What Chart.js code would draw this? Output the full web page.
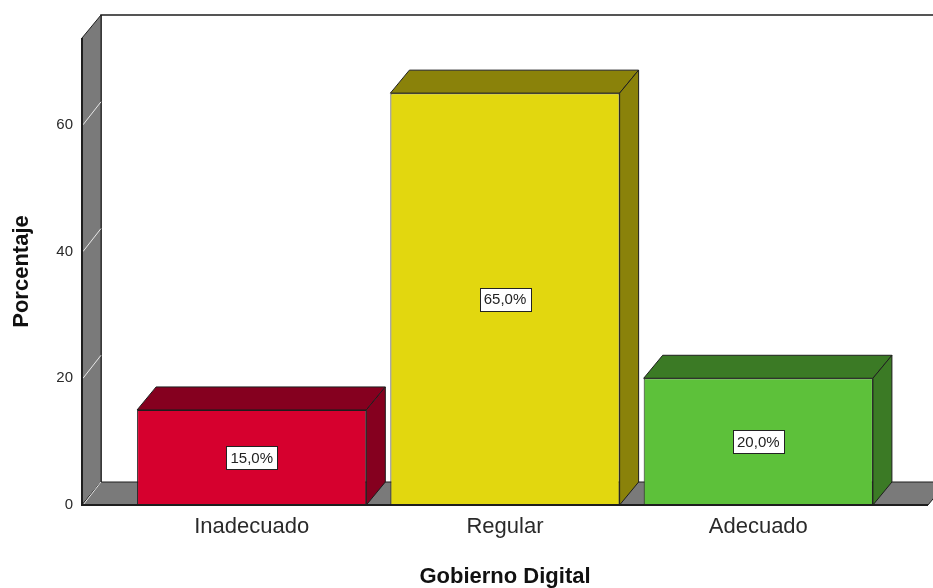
<!DOCTYPE html>
<html>
<head>
<meta charset="utf-8">
<script src="https://cdn.jsdelivr.net/npm/chart.js@4/dist/chart.umd.min.js"></script>
<style>
  html, body { margin: 0; padding: 0; background: #fff; }
  #wrap { width: 933px; height: 588px; }
</style>
</head>
<body>
<div id="wrap"><canvas id="chart"></canvas></div>
<script>
const categories = ['Inadecuado', 'Regular', 'Adecuado'];
const percentages = [15.0, 65.0, 20.0];
const yTicks = [0, 20, 40, 60];
const frontColors = ['#d6002e', '#e2d70f', '#5dc13a'];
const sideColors = ['#85001f', '#8a820a', '#3b7a25'];

// 3D depth of the SPSS style frame
const DX = 19, DY = -23;
const WALL = '#7a7a7a';
const EDGE = '#1e1e1e';

function poly(ctx, pts, fill) {
  ctx.beginPath();
  ctx.moveTo(pts[0][0], pts[0][1]);
  for (let i = 1; i < pts.length; i++) ctx.lineTo(pts[i][0], pts[i][1]);
  ctx.closePath();
  if (fill) { ctx.fillStyle = fill; ctx.fill(); }
  ctx.strokeStyle = EDGE;
  ctx.lineWidth = 1;
  ctx.stroke();
}

const frame3d = {
  id: 'frame3d',
  beforeDatasetsDraw(chart) {
    const { ctx, chartArea: a, scales: { y } } = chart;
    ctx.save();
    // back wall outline
    ctx.strokeStyle = EDGE;
    ctx.lineWidth = 1.5;
    ctx.beginPath();
    ctx.moveTo(a.left + DX, a.bottom + DY);
    ctx.lineTo(a.left + DX, a.top + DY);
    ctx.lineTo(chart.width + 30, a.top + DY);
    ctx.stroke();
    // side wall
    poly(ctx, [[a.left, a.top], [a.left + DX, a.top + DY], [a.left + DX, a.bottom + DY], [a.left, a.bottom]], WALL);
    // floor
    poly(ctx, [[a.left, a.bottom], [a.left + DX, a.bottom + DY], [a.right + DX, a.bottom + DY], [a.right, a.bottom]], WALL);
    // grid lines on the wall
    ctx.strokeStyle = '#e8e8e8';
    ctx.lineWidth = 1;
    yTicks.forEach(v => {
      const py = y.getPixelForValue(v);
      ctx.beginPath();
      ctx.moveTo(a.left + 1, py);
      ctx.lineTo(a.left + DX, py + DY);
      ctx.stroke();
    });
    // front axis edges
    ctx.strokeStyle = EDGE;
    ctx.lineWidth = 2;
    ctx.beginPath();
    ctx.moveTo(a.left, a.top);
    ctx.lineTo(a.left, a.bottom);
    ctx.lineTo(a.right, a.bottom);
    ctx.stroke();
    ctx.restore();
  },
  afterDatasetsDraw(chart) {
    const { ctx } = chart;
    const meta = chart.getDatasetMeta(0);
    ctx.save();
    meta.data.forEach((bar, i) => {
      const { x, y, base, width } = bar.getProps(['x', 'y', 'base', 'width'], true);
      const x1 = x - width / 2, x2 = x + width / 2;
      poly(ctx, [[x1, y], [x1 + DX, y + DY], [x2 + DX, y + DY], [x2, y]], sideColors[i]);
      poly(ctx, [[x2, y], [x2 + DX, y + DY], [x2 + DX, base + DY], [x2, base]], sideColors[i]);

      // value label
      const txt = percentages[i].toFixed(1).replace('.', ',') + '%';
      ctx.font = '15px "Liberation Sans", Arial, sans-serif';
      const w = Math.round(ctx.measureText(txt).width + 8);
      const h = 23;
      const cy = (y + base) / 2;
      const bx = Math.round(x - w / 2) + 0.5, by = Math.round(cy - h / 2) + 0.5;
      ctx.fillStyle = '#fff';
      ctx.fillRect(bx, by, w, h);
      ctx.strokeStyle = '#222';
      ctx.lineWidth = 1;
      ctx.strokeRect(bx, by, w, h);
      ctx.fillStyle = '#222';
      ctx.textAlign = 'center';
      ctx.textBaseline = 'middle';
      ctx.fillText(txt, x, cy + 1);
    });
    ctx.restore();
  }
};

new Chart(document.getElementById('chart'), {
  type: 'bar',
  data: {
    datasets: [{
      data: percentages.map((v, i) => ({ x: i, y: v })),
      backgroundColor: frontColors,
      borderColor: EDGE,
      borderWidth: 1,
      borderSkipped: false,
      categoryPercentage: 1,
      barPercentage: 0.905
    }]
  },
  options: {
    responsive: true,
    maintainAspectRatio: false,
    animation: false,
    layout: { padding: { top: 38, right: 5, left: 0, bottom: 0 } },
    plugins: { legend: { display: false }, tooltip: { enabled: false } },
    scales: {
      x: {
        type: 'linear',
        offset: false,
        min: -0.67,
        max: 2.67,
        grid: { display: false, drawTicks: false },
        border: { display: false },
        afterBuildTicks: s => { s.ticks = categories.map((c, i) => ({ value: i })); },
        afterFit: s => { s.height = 83; },
        ticks: {
          padding: 9,
          autoSkip: false,
          maxRotation: 0,
          color: '#2a2a2a',
          font: { family: '"Liberation Sans", Arial, sans-serif', size: 22 },
          callback: v => categories[v]
        },
        title: {
          display: true,
          text: 'Gobierno Digital',
          color: '#111',
          padding: { top: 0, bottom: 0 },
          font: { family: '"Liberation Sans", Arial, sans-serif', size: 22, weight: 'bold', lineHeight: 1 }
        }
      },
      y: {
        min: 0,
        max: 73.7,
        grid: { display: false, drawTicks: false },
        border: { display: false },
        afterBuildTicks: s => { s.ticks = yTicks.map(v => ({ value: v })); },
        afterFit: s => { s.width = 82; },
        ticks: {
          padding: 9,
          color: '#2a2a2a',
          font: { family: '"Liberation Sans", Arial, sans-serif', size: 15 }
        },
        title: {
          display: true,
          text: 'Porcentaje',
          color: '#111',
          padding: { top: 11, bottom: 0 },
          font: { family: '"Liberation Sans", Arial, sans-serif', size: 22, weight: 'bold', lineHeight: 1 }
        }
      }
    }
  },
  plugins: [frame3d]
});
</script>
</body>
</html>
